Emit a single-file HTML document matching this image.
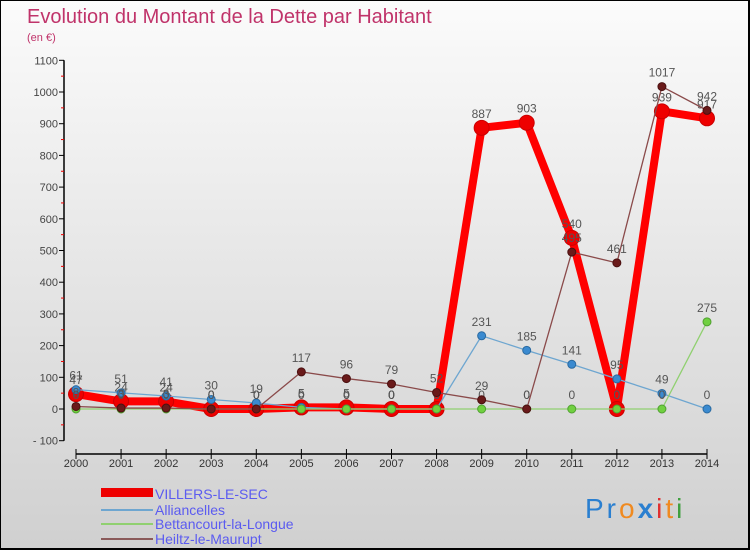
<!DOCTYPE html>
<html><head><meta charset="utf-8"><style>
body{margin:0}
#c{width:750px;height:550px;position:relative;overflow:hidden;box-sizing:border-box;border:1px solid #000;border-bottom:2px solid #000;border-right:2px solid #000;background:linear-gradient(#fbfbfb,#d0d0d0);font-family:"Liberation Sans",sans-serif}
</style></head><body>
<div id="c">
<svg id="s" width="750" height="550" style="position:absolute;left:0;top:0">
<text x="26" y="22" font-size="20" fill="#c0336a" font-weight="300">Evolution du Montant de la Dette par Habitant</text>
<text x="26" y="40" font-size="11" fill="#c0336a">(en €)</text>
<g id="axes"></g>
<g id="series"></g>
<g>
<rect x="100" y="487" width="52" height="9" fill="#e00"/>
<text x="154" y="498" font-size="14" fill="#5b5bf0">VILLERS-LE-SEC</text>
<rect x="100" y="508" width="52" height="2" fill="#6ea6d0"/>
<text x="154" y="514" font-size="14" fill="#5b5bf0">Alliancelles</text>
<rect x="100" y="522" width="52" height="2" fill="#90d070"/>
<text x="154" y="528" font-size="14" fill="#5b5bf0">Bettancourt-la-Longue</text>
<rect x="100" y="537" width="52" height="2" fill="#8a5a5a"/>
<text x="154" y="543" font-size="14" fill="#5b5bf0">Heiltz-le-Maurupt</text>
</g>
<g font-size="28" font-family="Liberation Sans,sans-serif" letter-spacing="3">
<text x="584" y="517"><tspan fill="#2a7fd0">Pr</tspan><tspan fill="#f08a20">o</tspan><tspan fill="#2a7fd0" font-weight="bold">x</tspan><tspan fill="#e03030">i</tspan><tspan fill="#f08a20">t</tspan><tspan fill="#40a040">i</tspan></text>
</g>
</svg>
</div>
<script>
const years=[2000,2001,2002,2003,2004,2005,2006,2007,2008,2009,2010,2011,2012,2013,2014];
const yTicks=[-100,0,100,200,300,400,500,600,700,800,900,1000,1100];
const villers=[47,24,24,0,0,5,5,0,0,887,903,540,0,939,917];
const alliancelles=[61,51,41,30,19,5,0,0,0,231,185,141,95,49,0];
const bettancourt=[0,0,0,0,0,0,0,0,0,0,0,0,0,0,275];
const heiltz=[8,3,3,0,0,117,96,79,52,29,0,495,461,1017,942];
const NS="http://www.w3.org/2000/svg";
function X(i){return 75+i*(706-75)/14;}
function Y(v){return 408-v*(408-91)/1000;}
function mk(t,a,p){const e=document.createElementNS(NS,t);for(const k in a)e.setAttribute(k,a[k]);p.appendChild(e);return e;}
const ax=document.getElementById('axes');
let l=mk('line',{x1:63,y1:Y(1100),x2:63,y2:Y(-100),stroke:'#000','stroke-width':1.5},ax);


yTicks.forEach(v=>{mk('line',{x1:58,y1:Y(v),x2:63,y2:Y(v),stroke:'#000'},ax);
const t=mk('text',{x:57,y:Y(v)+4,'font-size':11,fill:'#444','text-anchor':'end'},ax);t.textContent=v<0?'- '+(-v):v;


if(v<1100)mk('line',{x1:60,y1:Y(v+50),x2:63,y2:Y(v+50),stroke:'#e00'},ax);});
let xa=mk('line',{x1:X(0),y1:453,x2:X(14),y2:453,stroke:'#000','stroke-width':1.5},ax);


years.forEach((y,i)=>{mk('line',{x1:X(i),y1:448,x2:X(i),y2:458,stroke:'#000'},ax);
const t=mk('text',{x:X(i),y:466,'font-size':11,fill:'#333','text-anchor':'middle'},ax);t.textContent=y;

});
const sg=document.getElementById('series');
function series(name,d,color,w,r,fill,stroke){
const g=mk('g',{},sg);


const p=mk('polyline',{points:d.map((v,i)=>X(i)+','+Y(v)).join(' '),fill:'none',stroke:color,'stroke-width':w,'stroke-linejoin':'round','stroke-linecap':'round'},g);


d.forEach((v,i)=>{const c=mk('circle',{cx:X(i),cy:Y(v),r:r,fill:fill,stroke:stroke,'stroke-width':1},g);


const t=mk('text',{x:X(i),y:Y(v)-10,'font-size':12,fill:'#555','text-anchor':'middle'},g);t.textContent=v;

});}
series('villers',villers,'#f00',8,7.5,'#e00','#c00');
series('alliancelles',alliancelles,'#6ea6d0',1.3,4,'#3a8ad0','#2a6aa0');
series('bettancourt',bettancourt,'#90d070',1.3,4,'#70d040','#50a030');
series('heiltz',heiltz,'#8a4a4a',1.3,4,'#6a1a1a','#4a1010');
</script>
</body></html>
